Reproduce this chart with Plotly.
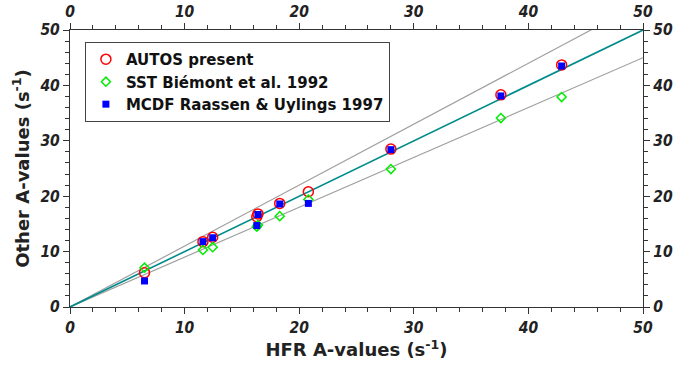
import plotly.graph_objects as go

# Data
hfr_autos = [6.5, 11.6, 12.45, 16.3, 16.4, 18.3, 20.8, 28.0, 37.6, 42.9]
autos = [6.2, 11.8, 12.6, 16.3, 16.8, 18.7, 20.8, 28.5, 38.3, 43.7]

hfr_sst = [6.5, 11.6, 12.45, 16.3, 16.4, 18.3, 20.8, 28.0, 37.6, 42.9]
sst = [7.1, 10.3, 10.8, 14.5, 14.8, 16.4, 19.4, 24.9, 34.1, 37.9]

hfr_mcdf = [6.5, 11.6, 12.45, 16.3, 16.4, 18.3, 20.8, 28.0, 37.6, 42.9]
mcdf = [4.7, 11.8, 12.5, 14.7, 16.7, 18.6, 18.7, 28.4, 38.1, 43.5]

line_x = [0, 50]
ratio_upper = 1.1
ratio_equal = 1.0
ratio_lower = 0.9

FONT_C = "DejaVu Sans Condensed, DejaVu Sans"
FONT = "DejaVu Sans"
fig = go.Figure()

fig.add_trace(go.Scatter(x=line_x, y=[v * ratio_upper for v in line_x], mode="lines",
                         line=dict(color="#a0a0a0", width=1.2), showlegend=False, hoverinfo="skip"))
fig.add_trace(go.Scatter(x=line_x, y=[v * ratio_lower for v in line_x], mode="lines",
                         line=dict(color="#a0a0a0", width=1.2), showlegend=False, hoverinfo="skip"))
fig.add_trace(go.Scatter(x=line_x, y=[v * ratio_equal for v in line_x], mode="lines",
                         line=dict(color="#008b8b", width=1.6), showlegend=False, hoverinfo="skip"))

fig.add_trace(go.Scatter(x=hfr_autos, y=autos, mode="markers", name="<b>AUTOS present</b>",
                         marker=dict(symbol="circle-open", size=10, color="#ff0000", line=dict(width=1.5))))
fig.add_trace(go.Scatter(x=hfr_sst, y=sst, mode="markers", name="<b>SST Biémont et al. 1992</b>",
                         marker=dict(symbol="diamond-open", size=7, color="#00ee00", line=dict(width=1.5))))
fig.add_trace(go.Scatter(x=hfr_mcdf, y=mcdf, mode="markers", name="<b>MCDF Raassen &amp; Uylings 1997</b>",
                         marker=dict(symbol="square", size=7, color="#0000ff")))

# invisible trace for top/right axes
fig.add_trace(go.Scatter(x=[0], y=[0], xaxis="x2", yaxis="y2", mode="markers",
                         marker=dict(opacity=0), showlegend=False, hoverinfo="skip"))

tickfont = dict(family=FONT_C, size=15.5, color="#222")
common = dict(range=[0, 50], dtick=10, tick0=0, ticks="outside", ticklen=6, tickwidth=1.2,
              tickcolor="#333", showline=True, linecolor="#333", linewidth=1.2,
              showgrid=False, zeroline=False, tickfont=tickfont, automargin=False,
              tickprefix="<b><i>", ticksuffix="</i></b>",
              minor=dict(dtick=2, ticks="outside", ticklen=4, tickcolor="#333", tickwidth=1))

fig.update_layout(
    width=695, height=372,
    margin=dict(l=70, r=52, t=30, b=65),
    paper_bgcolor="white", plot_bgcolor="white",
    font=dict(family=FONT, color="#222"),
    xaxis=dict(**common, title=dict(text="<b>HFR A-values (s<sup>-1</sup>)</b>",
                                    font=dict(family=FONT, size=18, color="#222"), standoff=6)),
    yaxis=dict(**common, title=dict(text="<b>Other A-values (s<sup>-1</sup>)</b>",
                                    font=dict(family=FONT, size=18, color="#222"), standoff=6)),
    xaxis2=dict(**common, overlaying="x", side="top", anchor="y"),
    yaxis2=dict(**common, overlaying="y", side="right", anchor="x"),
    legend=dict(x=0.026, y=0.957, xanchor="left", yanchor="top",
                bgcolor="white", bordercolor="#444", borderwidth=1,
                font=dict(family=FONT, size=15, color="#111"),
                itemsizing="trace", tracegroupgap=0),
)

fig.write_html("out.html",
               config={"displayModeBar": False},
               post_script="document.body.style.margin='0';document.body.style.padding='0';")
